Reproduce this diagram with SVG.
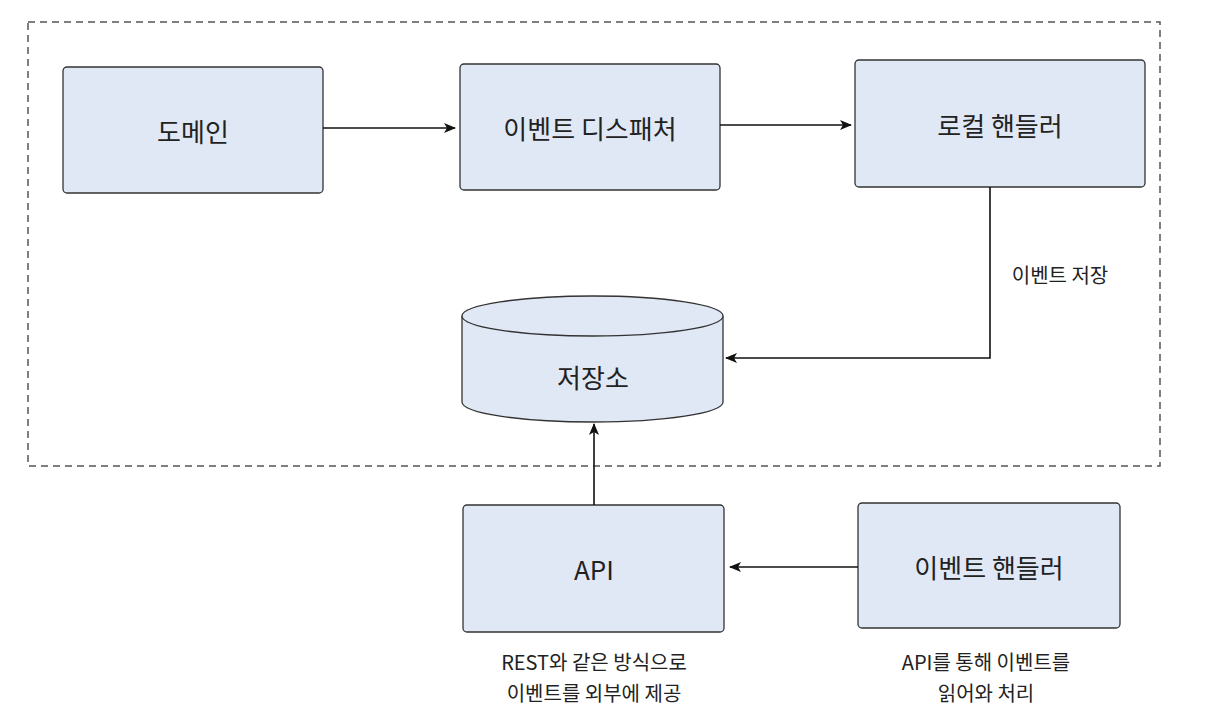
<svg xmlns="http://www.w3.org/2000/svg" width="1206" height="726" viewBox="0 0 1206 726">
<style>
.n{fill:#e0e8f6;stroke:#333;stroke-width:1.3}
.t{font-family:"Noto Sans CJK KR","Noto Sans",sans-serif;font-size:26px;fill:#222;text-anchor:middle;dominant-baseline:central}
.s{font-family:"Noto Sans CJK KR","Noto Sans",sans-serif;font-size:20px;fill:#222;text-anchor:middle}
.c{fill:none;stroke:#111;stroke-width:1.6;marker-end:url(#a)}
</style>
<defs><marker id="a" viewBox="0 0 12 10" refX="11" refY="5" markerWidth="12" markerHeight="10" markerUnits="userSpaceOnUse" orient="auto"><path d="M0,0 L12,5 L0,10 L3,5 Z" fill="#111"/></marker></defs>
<rect width="1206" height="726" fill="#fff"/>
<rect x="28" y="22" width="1132" height="444" fill="none" stroke="#555" stroke-width="1.5" stroke-dasharray="7,5"/>
<g id="domain"><rect class="n" x="63" y="67" width="260" height="126" rx="4"/><text class="t" x="193" y="130">도메인</text></g>
<g id="dispatcher"><rect class="n" x="460" y="64" width="260" height="126" rx="4"/><text class="t" x="590" y="127">이벤트 디스패처</text></g>
<g id="local"><rect class="n" x="855" y="60" width="290" height="127" rx="4"/><text class="t" x="1000" y="124">로컬 핸들러</text></g>
<g id="store"><path class="n" d="M462,316 L462,402 A130.5,20 0 0 0 723,402 L723,316"/><ellipse class="n" cx="592.5" cy="316" rx="130.5" ry="20"/><text class="t" x="593" y="376">저장소</text></g>
<g id="api"><rect class="n" x="463" y="505" width="261" height="127" rx="4"/><text class="t" x="594" y="568">API</text>
<text class="s" x="594" y="670">REST와 같은 방식으로</text><text class="s" x="594" y="701">이벤트를 외부에 제공</text></g>
<g id="handler"><rect class="n" x="858" y="503" width="262" height="125" rx="4"/><text class="t" x="989" y="566">이벤트 핸들러</text>
<text class="s" x="986" y="670">API를 통해 이벤트를</text><text class="s" x="986" y="701">읽어와 처리</text></g>
<g id="connectors">
<path class="c" d="M323,128 L455,128"/>
<path class="c" d="M720,125 L851,125"/>
<path class="c" d="M990,187 L990,358 L726,358"/>
<text class="s" x="1060" y="283">이벤트 저장</text>
<path class="c" d="M594,505 L594,424"/>
<path class="c" d="M858,567 L730,567"/>
</g>
</svg>
